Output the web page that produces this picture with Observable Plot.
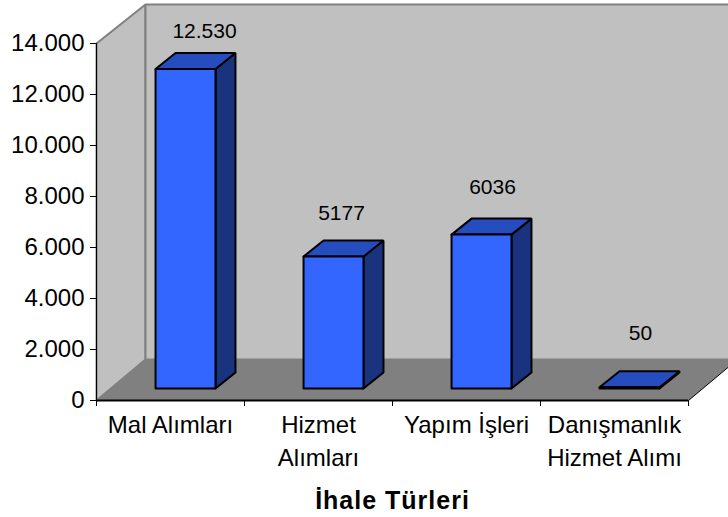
<!DOCTYPE html>
<html><head><meta charset="utf-8">
<style>html,body{margin:0;padding:0;background:#fff}svg{display:block}.ttl text,.ttl{letter-spacing:1px}</style>
<script src="https://cdn.jsdelivr.net/npm/d3@7"></script>
<script src="https://cdn.jsdelivr.net/npm/@observablehq/plot@0.6"></script>
</head><body><div id="chart"></div>
<script>
const categories = ["Mal Alımları", "Hizmet\nAlımları", "Yapım İşleri", "Danışmanlık\nHizmet Alımı"];
const values = [12530, 5177, 6036, 50];
const valueLabels = ["12.530", "5177", "6036", "50"];
const yTicks = [0, 2000, 4000, 6000, 8000, 10000, 12000, 14000];
const xTitle = "İhale Türleri";

// 3-D projection of the chart, in data units
const wallDX = 0.331, wallDY = 1608, wallTop = 15530;
const barLeft = 0.399, barW = 0.405, barDX = 0.135, barDY = 627, barBase = 470;
const labelLift = [38, 43, 47, 54];
const labelShift = [9, -2, 1, 1];

const poly = (pts) => [...pts, pts[0]].map(([x, y]) => ({x, y}));
const many = (fn) => values.flatMap((v, i) => fn(v, i).map((p) => ({...p, i})));
const front = many((v, i) => { const a = i + barLeft, b = a + barW, t = barBase + v;
  return poly([[a, barBase], [b, barBase], [b, t], [a, t]]); });
const top_ = many((v, i) => { const a = i + barLeft, b = a + barW, t = barBase + v;
  return poly([[a, t], [b, t], [b + barDX, t + barDY], [a + barDX, t + barDY]]); });
const side = many((v, i) => { const b = i + barLeft + barW, t = barBase + v;
  return poly([[b, barBase], [b + barDX, barBase + barDY], [b + barDX, t + barDY], [b, t]]); });

const leftWall = poly([[0, 0], [wallDX, wallDY], [wallDX, wallTop], [0, 14000]]);
const backWall = poly([[wallDX, wallDY], [4.4, wallDY], [4.4, wallTop], [wallDX, wallTop]]);
const floor = poly([[0, 0], [wallDX, wallDY], [4 + wallDX, wallDY], [4, 0]]);
const line = (d, o) => Plot.line(d, {x: "x", y: "y", curve: "linear", strokeLinejoin: "miter", ...o});

const chart = Plot.plot({
  width: 728, height: 517,
  marginLeft: 96, marginRight: 40, marginTop: 43, marginBottom: 117,
  style: {fontFamily: "Liberation Sans, Arial, sans-serif", color: "#000", background: "#fff"},
  x: {domain: [0, 4], range: [96, 688]},
  y: {domain: [0, 14000], range: [400, 43]},
  marks: [
    line(leftWall, {fill: "#c0c0c0", stroke: "#808080", strokeWidth: 2}),
    line(backWall, {fill: "#c0c0c0", stroke: "#808080", strokeWidth: 2}),
    line(floor, {fill: "#808080", stroke: "none"}),
    Plot.line([{x: 4, y: 0}, {x: 4 + wallDX, y: wallDY}], {x: "x", y: "y", stroke: "#000", strokeWidth: 1}),
    line(side, {z: "i", fill: "#1a337f", stroke: "#000", strokeWidth: 2}),
    line(top_, {z: "i", fill: "#264dbf", stroke: "#000", strokeWidth: 2}),
    line(front, {z: "i", fill: "#3366ff", stroke: "#000", strokeWidth: 2}),
    Plot.ruleY([0], {x1: 0, x2: 4, stroke: "#000", strokeWidth: 2}),
    Plot.ruleX([0], {y1: 0, y2: 14000, stroke: "#000", strokeWidth: 1}),
    Plot.axisY(yTicks, {anchor: "left", label: null, tickSize: 6, tickPadding: 6, fontSize: 24,
      tickFormat: (d) => d3.format(",")(d).replace(",", ".")}),
    Plot.axisX([0, 1, 2, 3, 4], {anchor: "bottom", label: null, tickSize: 6, tickFormat: () => ""}),
    Plot.axisX([0.5, 1.5, 2.5, 3.5], {anchor: "bottom", label: null, tickSize: 0, tickPadding: 9, fontSize: 24,
      lineHeight: 1.375, tickFormat: (d) => categories[Math.floor(d)]}),
    Plot.text(valueLabels, {
      x: (d, i) => i + barLeft + barW / 2 + barDX / 2,
      y: (d, i) => barBase + values[i],
      text: (d) => d, fontSize: 21, lineAnchor: "middle",
      render(index, scales, channels, dims, ctx, next) {
        const g = next(index, scales, channels, dims, ctx);
        d3.select(g).selectAll("text").each(function(_, k) {
          d3.select(this).attr("dy", -labelLift[index[k]]).attr("dx", labelShift[index[k]]);
        });
        return g;
      }
    }),
    Plot.text([xTitle], {x: [2], y: [-3960], fontSize: 25, fontWeight: "bold", lineAnchor: "middle", className: "ttl"})
  ]
});
document.getElementById("chart").append(chart);
</script></body></html>
